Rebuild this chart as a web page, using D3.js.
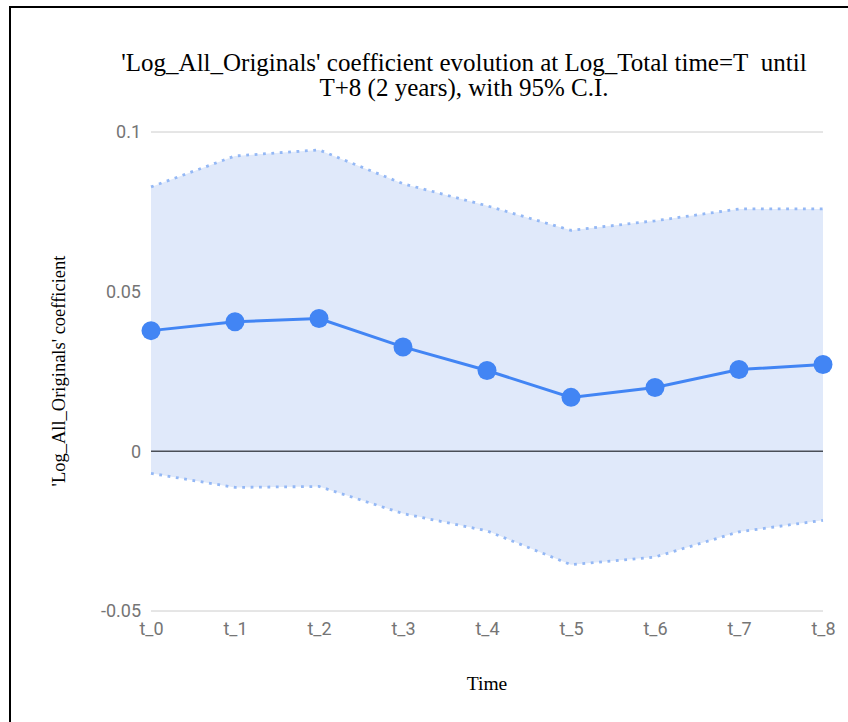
<!DOCTYPE html>
<html>
<head>
<meta charset="utf-8">
<script src="https://cdn.jsdelivr.net/npm/d3@7"></script>
<style>
  html, body { margin: 0; padding: 0; background: #fff; }
  svg { display: block; }
</style>
</head>
<body>
<svg id="chart" width="848" height="722"></svg>
<script>
// Coefficient of Log_All_Originals over time, with 95% confidence interval
const periods = ["t_0", "t_1", "t_2", "t_3", "t_4", "t_5", "t_6", "t_7", "t_8"];
const coefficient = [0.0378, 0.0406, 0.0416, 0.0327, 0.0253, 0.0169, 0.0200, 0.0256, 0.0272];
const upperCI = [0.0828, 0.0925, 0.0944, 0.0838, 0.0769, 0.0692, 0.0722, 0.0759, 0.0759];
const lowerCI = [-0.0069, -0.0113, -0.0110, -0.0195, -0.0249, -0.0355, -0.0331, -0.0252, -0.0216];
const yTicks = [-0.05, 0, 0.05, 0.1];
const yTickLabels = ["-0.05", "0", "0.05", "0.1"];

const titleLines = [
  "'Log_All_Originals' coefficient evolution at Log_Total time=T\u00a0 until",
  "T+8 (2 years), with 95% C.I."
];

const svg = d3.select("#chart");
const W = 848, H = 722;
const plot = { left: 151, right: 823, top: 132, bottom: 611 };

// frame
svg.append("path")
  .attr("d", `M10,${H} L10,7 L${W},7`)
  .attr("fill", "none")
  .attr("stroke", "#000")
  .attr("stroke-width", 2);

const x = d3.scalePoint().domain(periods).range([plot.left, plot.right]);
const y = d3.scaleLinear().domain([-0.05, 0.1]).range([plot.bottom, plot.top]);

const rows = periods.map((p, i) => ({ p, v: coefficient[i], hi: upperCI[i], lo: lowerCI[i] }));

// gridlines
svg.append("g").selectAll("line")
  .data(yTicks.filter(t => t !== 0))
  .join("line")
  .attr("x1", plot.left).attr("x2", plot.right)
  .attr("y1", d => y(d)).attr("y2", d => y(d))
  .attr("stroke", "#cccccc").attr("stroke-width", 1);

// interval band
svg.append("path")
  .datum(rows)
  .attr("d", d3.area().x(d => x(d.p)).y0(d => y(d.lo)).y1(d => y(d.hi)))
  .attr("fill", "#e0e9fa");

// zero baseline
svg.append("line")
  .attr("x1", plot.left).attr("x2", plot.right)
  .attr("y1", y(0)).attr("y2", y(0))
  .attr("stroke", "#4a4f57").attr("stroke-width", 1.5);

// dotted interval bounds
["hi", "lo"].forEach(k => {
  svg.append("path")
    .datum(rows)
    .attr("d", d3.line().x(d => x(d.p)).y(d => y(d[k])))
    .attr("fill", "none")
    .attr("stroke", "#94b8f5")
    .attr("stroke-width", 2.8)
    .attr("stroke-dasharray", "2.8,5.6");
});

// coefficient line and markers
svg.append("path")
  .datum(rows)
  .attr("d", d3.line().x(d => x(d.p)).y(d => y(d.v)))
  .attr("fill", "none")
  .attr("stroke", "#4285f4")
  .attr("stroke-width", 3);

svg.append("g").selectAll("circle")
  .data(rows)
  .join("circle")
  .attr("cx", d => x(d.p)).attr("cy", d => y(d.v))
  .attr("r", 9.5)
  .attr("fill", "#4285f4");

// y axis labels
const yAxis = d3.axisLeft(y).tickValues(yTicks)
  .tickFormat((d, i) => yTickLabels[i]).tickSize(0).tickPadding(10);
const gy = svg.append("g").attr("transform", `translate(${plot.left},0)`).call(yAxis);
gy.select(".domain").remove();
gy.selectAll("text")
  .attr("fill", "#757575")
  .style("font-family", "Roboto, 'Noto Sans', sans-serif")
  .style("font-size", "18px");

// x axis labels
const xAxis = d3.axisBottom(x).tickSize(0).tickPadding(11);
const gx = svg.append("g").attr("transform", `translate(0,${plot.bottom})`).call(xAxis);
gx.select(".domain").remove();
gx.selectAll("text")
  .attr("fill", "#757575")
  .style("font-family", "Roboto, 'Noto Sans', sans-serif")
  .style("font-size", "18px");

// title
const serif = "'Liberation Serif', 'DejaVu Serif', serif";
svg.append("text")
  .attr("x", 464).attr("y", 71)
  .attr("text-anchor", "middle")
  .style("font-family", serif).style("font-size", "25px").attr("fill", "#000")
  .selectAll("tspan")
  .data(titleLines)
  .join("tspan")
  .attr("x", 464)
  .attr("dy", (d, i) => i === 0 ? 0 : 25)
  .text(d => d);

// axis titles
svg.append("text")
  .attr("x", 487).attr("y", 690)
  .attr("text-anchor", "middle")
  .style("font-family", serif).style("font-size", "19.5px")
  .text("Time");

svg.append("text")
  .attr("transform", `translate(65,371) rotate(-90)`)
  .attr("text-anchor", "middle")
  .style("font-family", serif).style("font-size", "18.5px")
  .text("'Log_All_Originals' coefficient");
</script>
</body>
</html>
